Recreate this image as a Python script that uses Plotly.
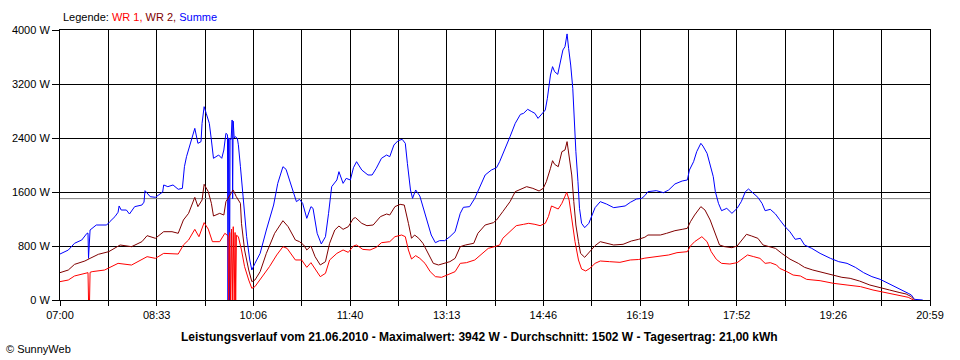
import plotly.graph_objects as go

# ---------------- data ----------------
summe_t = ["07:00","07:08","07:14","07:21","07:26","07:27","07:27:30","07:28:30","07:29","07:35","07:45","07:48","07:53","07:56","07:57","07:59","08:04","08:07","08:12","08:19","08:21","08:22","08:24","08:27","08:32","08:36","08:39","08:40","08:44","08:49","08:54","08:58","09:00","09:02","09:07","09:10","09:13","09:16","09:17","09:19","09:21","09:24","09:26","09:28","09:33","09:36","09:38","09:40","09:41:30","09:42","09:42:30","09:43","09:43:30","09:44","09:45","09:46","09:46:30","09:47","09:48","09:49","09:51","09:52","09:54","09:55","09:57","10:00","10:03","10:05","10:08","10:13","10:19","10:26","10:30","10:35","10:38","10:42","10:48","10:51","10:54","10:58","11:02","11:04","11:08","11:12","11:16","11:19","11:22","11:27","11:29","11:33","11:36","11:40","11:43","11:46","11:51","11:57","12:01","12:05","12:10","12:15","12:18","12:22","12:26","12:30","12:33","12:35","12:38","12:40","12:43","12:47","12:50","12:55","12:58","13:02","13:06","13:11","13:16","13:21","13:26","13:29","13:35","13:40","13:45","13:50","13:56","14:01","14:04","14:09","14:14","14:19","14:24","14:27","14:31","14:35","14:38","14:41","14:45","14:48","14:50","14:53","14:55","14:57","15:00","15:03","15:05","15:07","15:09","15:10:30","15:12:30","15:14:30","15:16","15:17:30","15:19:30","15:21","15:23","15:26","15:30","15:33","15:36","15:41","15:47","15:54","16:00","16:05","16:10","16:16","16:21","16:24","16:27","16:35","16:42","16:47","16:53","17:00","17:05","17:07","17:11","17:14","17:18","17:20","17:24","17:27","17:30","17:32","17:35","17:38","17:43","17:48","17:53","17:57","18:01","18:04","18:09","18:13","18:17","18:20","18:25","18:30","18:34","18:39","18:44","18:49","18:54","18:58","19:05","19:13","19:23","19:31","19:39","19:47","19:55","20:03","20:11","20:19","20:27","20:33","20:38","20:41","20:44","20:52"]
summe_w = [681,740,840,889,988,990,617,1000,1037,1111,1111,1160,1235,1300,1393,1333,1333,1274,1383,1407,1450,1620,1580,1531,1521,1570,1600,1704,1679,1704,1640,1654,1975,2123,2370,2543,2321,2346,2617,2864,2765,2617,2370,2099,2148,2099,2222,2469,2450,0,2400,2400,0,2380,2380,2667,1500,2650,2400,2420,2395,2300,1975,1778,1432,938,593,444,543,691,1037,1407,1728,1975,1936,1753,1457,1491,1432,1210,1383,1358,988,830,938,1284,1679,1778,1901,1728,1802,1778,1960,2049,1926,1852,1852,1951,2099,2148,2123,2296,2360,2380,2321,2025,1630,1506,1630,1541,1383,1136,963,849,879,879,938,1012,1284,1373,1383,1506,1679,1852,1926,1960,2050,2222,2420,2617,2750,2765,2825,2790,2765,2691,2765,2815,2988,3333,3457,3383,3343,3580,3704,3753,3942,3728,3481,3136,2642,2197,1753,1358,1136,1072,1136,1259,1368,1457,1422,1368,1383,1393,1447,1496,1506,1546,1605,1620,1590,1630,1719,1763,1778,1926,2049,2197,2321,2281,2173,2000,1827,1605,1432,1323,1358,1284,1358,1457,1605,1644,1580,1521,1432,1323,1343,1274,1190,1090,1010,899,914,815,765,691,617,568,543,484,405,346,306,247,188,148,99,74,10,0]

wr2_t = ["07:00","07:08","07:14","07:24","07:29","07:37","07:47","07:53","07:58","08:09","08:19","08:24","08:32","08:40","08:48","08:54","08:59","09:04","09:10","09:13","09:17","09:19","09:23","09:26","09:28","09:34","09:38","09:40","09:47","09:50","09:54","09:55","09:58","10:02","10:05","10:08","10:13","10:19","10:27","10:35","10:40","10:47","10:51","10:55","10:58","11:02","11:06","11:11","11:16","11:20","11:25","11:29","11:33","11:38","11:43","11:45","11:51","11:56","12:02","12:09","12:15","12:18","12:23","12:28","12:32","12:36","12:39","12:42","12:46","12:50","12:55","13:00","13:05","13:11","13:16","13:21","13:26","13:31","13:39","13:43","13:50","13:58","14:01","14:07","14:14","14:19","14:24","14:30","14:36","14:42","14:46","14:49","14:53","14:55","14:57","15:00:30","15:04","15:07","15:09","15:11","15:13:30","15:15:30","15:17:30","15:20","15:22","15:26","15:31","15:36","15:41","15:47","15:54","16:03","16:11","16:18","16:24","16:27","16:39","16:45","16:53","17:00","17:05","17:08","17:12","17:18","17:22","17:27","17:32","17:36","17:41","17:48","17:53","17:57","18:02","18:07","18:13","18:18","18:23","18:30","18:36","18:44","18:52","18:58","19:06","19:16","19:26","19:34","19:42","19:51","20:01","20:11","20:20","20:30","20:36","20:41","20:44"]
wr2_w = [405,444,528,578,617,677,716,765,815,790,864,953,914,1012,1012,988,1185,1284,1521,1383,1481,1714,1605,1432,1244,1284,1259,1457,1630,1531,1432,1136,741,444,272,296,420,691,988,1175,1086,889,864,815,741,800,642,519,568,840,1037,1096,1047,1086,1210,1220,1136,1101,1111,1235,1274,1259,1383,1417,1407,1136,914,963,914,840,691,543,519,543,568,617,790,815,840,988,1111,1146,1185,1309,1457,1605,1644,1679,1654,1615,1654,1753,1951,2064,2010,1975,2197,2222,2346,2148,1852,1457,1111,864,691,632,716,805,864,840,815,825,874,899,930,963,963,988,1027,1047,1062,1160,1259,1383,1333,1185,988,815,790,775,800,879,973,948,914,815,790,765,691,605,543,484,444,405,370,336,321,281,222,188,148,109,89,49,0]

wr1_t = ["07:00","07:08","07:14","07:27","07:27:30","07:28:30","07:29","07:31","07:43","07:56","08:09","08:20","08:24","08:32","08:40","08:54","08:59","09:04","09:10","09:14","09:19","09:23","09:27","09:34","09:39","09:42","09:42:40","09:43:40","09:44:25","09:45:25","09:46:10","09:47:05","09:48","09:48:50","09:49:25","09:50:10","09:52","09:55","09:58","10:02","10:05","10:08","10:14","10:22","10:29","10:35","10:39","10:47","10:53","10:58","11:02","11:06","11:11","11:16","11:20","11:27","11:33","11:38","11:43","11:46","11:52","11:59","12:05","12:10","12:18","12:23","12:29:30","12:33","12:36","12:39","12:43","12:47","12:52","12:57","13:02","13:08","13:14","13:21","13:26","13:32","13:40","13:47","13:53","13:59","14:04","14:07","14:14","14:20","14:27","14:32","14:38","14:43","14:48","14:51","14:54","14:57","15:00:30","15:04","15:06:20","15:08:40","15:11","15:13:30","15:16:40","15:20","15:23","15:27","15:31","15:36","15:41","15:50","16:00","16:10","16:18","16:24","16:37","16:47","16:55","17:05","17:08","17:12","17:19","17:24","17:28","17:33","17:38","17:46","17:53","17:57","18:03","18:09","18:15","18:20","18:25","18:31","18:34","18:41","18:47","18:54","19:00","19:13","19:26","19:39","19:52","20:04","20:17","20:30","20:38","20:43"]
wr1_w = [272,296,356,405,0,0,410,420,444,543,518,617,642,617,691,681,815,889,1047,938,1146,1050,864,864,988,950,0,1000,0,1050,0,1086,0,1000,0,960,938,741,494,296,173,198,321,494,667,790,765,593,593,484,553,469,346,395,593,691,741,706,800,815,750,741,780,849,864,938,963,938,741,607,657,617,543,420,346,336,370,420,543,553,593,691,765,790,815,914,1012,1101,1121,1136,1121,1101,1136,1235,1393,1368,1348,1432,1516,1595,1481,1210,864,593,459,430,469,543,578,568,558,593,600,620,652,667,701,716,800,864,938,864,716,602,543,533,553,602,667,642,617,543,553,519,469,420,370,356,306,286,247,222,198,148,109,74,40,0]

durchschnitt_w = 1502
maximal_w = 3942
tagesertrag = "21,00 kWh"
datum = "21.06.2010"

x_labels = ["07:00","","08:33","","10:06","","11:40","","13:13","","14:46","","16:19","","17:52","","19:26","","20:59"]
y_vals = [0, 800, 1600, 2400, 3200, 4000]
y_labels = ["0 W", "800 W", "1600 W", "2400 W", "3200 W", "4000 W"]

START, END = "07:00", "20:59"


def to_min(s):
    p = [int(v) for v in s.split(":")]
    h, m = p[0], p[1]
    sec = p[2] if len(p) > 2 else 0
    return (h - 7) * 60 + m + sec / 60.0


x0, x1 = to_min(START), to_min(END)
n = len(x_labels) - 1
x_ticks = [x0 + k * (x1 - x0) / n for k in range(n + 1)]

FONT = "Arial, 'Liberation Sans', sans-serif"

fig = go.Figure()
fig.add_trace(go.Scatter(x=[x0, x1], y=[durchschnitt_w, durchschnitt_w], mode="lines",
                         line=dict(color="#808080", width=1), hoverinfo="skip"))
fig.add_trace(go.Scatter(x=[to_min(t) for t in summe_t], y=summe_w, mode="lines",
                         line=dict(color="#0000FF", width=1), name="Summe"))
fig.add_trace(go.Scatter(x=[to_min(t) for t in wr2_t], y=wr2_w, mode="lines",
                         line=dict(color="#800000", width=1), name="WR 2"))
fig.add_trace(go.Scatter(x=[to_min(t) for t in wr1_t], y=wr1_w, mode="lines",
                         line=dict(color="#FF0000", width=1), name="WR 1"))

fig.update_layout(
    width=960, height=360,
    margin=dict(l=60, r=30, t=30, b=60),
    paper_bgcolor="white", plot_bgcolor="white",
    showlegend=False, hovermode=False,
    font=dict(family=FONT, size=11, color="black"),
)
fig.update_xaxes(range=[x0, x1], tickmode="array", tickvals=x_ticks, ticktext=x_labels,
                 showgrid=True, gridcolor="black", gridwidth=1,
                 showline=True, linecolor="black", linewidth=1, mirror=True,
                 ticks="outside", ticklen=5, tickcolor="black", tickwidth=1,
                 zeroline=False, tickangle=0, tickfont=dict(size=11, family=FONT, color="black"))
fig.update_yaxes(range=[0, 4000], tickmode="array", tickvals=y_vals, ticktext=y_labels,
                 showgrid=True, gridcolor="black", gridwidth=1,
                 showline=True, linecolor="black", linewidth=1, mirror=True,
                 ticks="outside", ticklen=7, tickcolor="black", tickwidth=1,
                 zeroline=False, tickfont=dict(size=11, family=FONT, color="black"))

legend_html = ("Legende: <span style='color:#FF0000'>WR 1,</span> "
               "<span style='color:#800000'>WR 2,</span> "
               "<span style='color:#0000FF'>Summe</span>")
fig.add_annotation(text=legend_html, xref="paper", yref="paper", x=1 / 870, y=(300 - 17) / 270,
                   xanchor="left", yanchor="middle", showarrow=False,
                   font=dict(size=11, family=FONT, color="black"))

title = (f"<b>Leistungsverlauf vom {datum} - Maximalwert: {maximal_w} W - "
         f"Durchschnitt: {durchschnitt_w} W - Tagesertrag: {tagesertrag}</b>")
fig.add_annotation(text=title, xref="paper", yref="paper", x=(479 - 60) / 870, y=(300 - 337) / 270,
                   xanchor="center", yanchor="middle", showarrow=False,
                   font=dict(size=12, family=FONT, color="black"))
fig.add_annotation(text="© SunnyWeb", xref="paper", yref="paper", x=(4 - 60) / 870, y=(300 - 349) / 270,
                   xanchor="left", yanchor="middle", showarrow=False,
                   font=dict(size=11, family=FONT, color="black"))

fig.write_html("out.html", config={"displayModeBar": False},
               post_script="document.body.style.margin='0';document.body.style.padding='0';")
